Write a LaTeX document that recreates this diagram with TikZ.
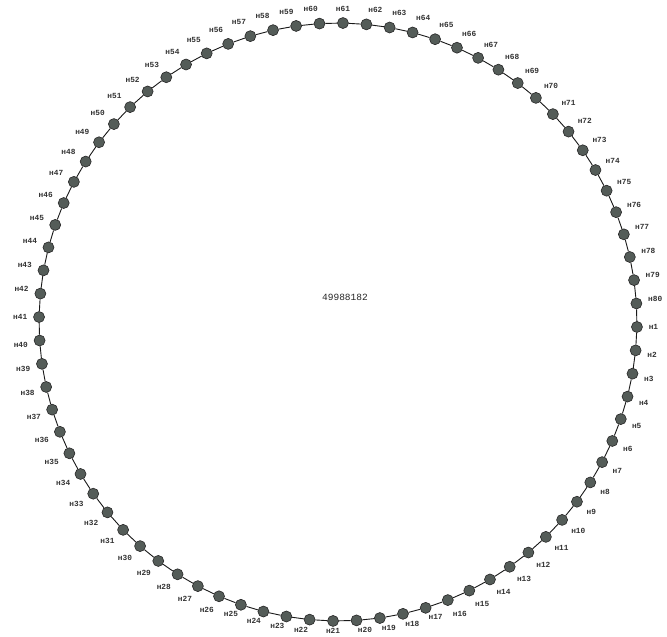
\documentclass[tikz,border=0pt]{standalone}
\usepackage{fontspec}
\newfontfamily\lblfont{Liberation Mono}
\usetikzlibrary{calc}
\definecolor{dotgray}{RGB}{84,92,88}
\begin{document}
\begin{tikzpicture}[x=1pt,y=1pt,
  dot/.style={circle,draw=black!85,line width=0.6pt,fill=dotgray,minimum size=11pt,inner sep=0pt},
  lbl/.style={font=\lblfont\bfseries\fontsize{7.8}{8}\selectfont,inner sep=0.8pt,text=black!80},
  ringedge/.style={draw=black!90,line width=0.9pt},
  ctrlbl/.style={font=\lblfont\fontsize{9.5}{10}\selectfont,inner sep=1pt,text=black!85}]
\useasboundingbox (0,0) rectangle (667,637);
\fill[white] (0,0) rectangle (667,637);
\clip (0,0) rectangle (667,637);
\coordinate (c) at (338,315);
\foreach \i in {1,...,80}{
  \pgfmathsetmacro\ang{-0.95-4.5*(\i-1)}
  \pgfmathsetmacro\ld{ifthenelse(and(\i>16,\i<26),0.5,5)}
  \node[dot,label={[lbl,label distance=\ld pt]\ang:н\i}] (n\i) at ($(c)+(\ang:299)$) {};
}
\foreach \i in {1,...,79}{
  \pgfmathtruncatemacro\j{\i+1}
  \draw[ringedge] (n\i) -- (n\j);
}
\draw[ringedge] (n80) -- (n1);
\node[ctrlbl] (ctr) at (345,340) {49988182};
\end{tikzpicture}
\end{document}
